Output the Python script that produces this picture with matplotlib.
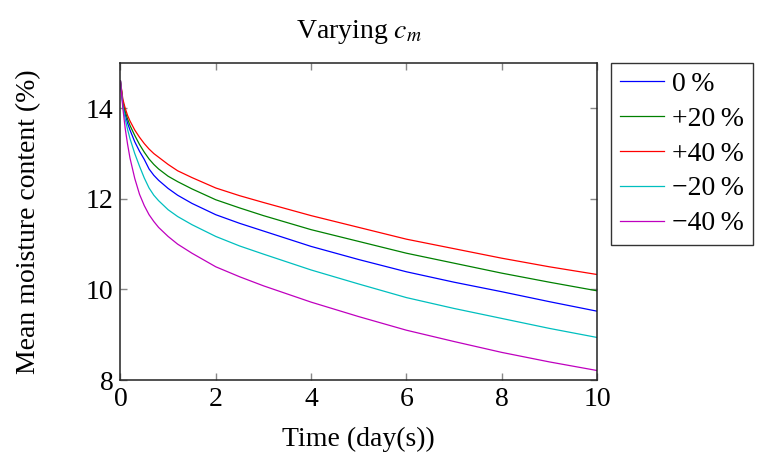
import matplotlib
matplotlib.use("Agg")
import matplotlib.pyplot as plt

t_days = [0, 0.05, 0.1, 0.15, 0.2, 0.3, 0.4, 0.5, 0.6, 0.7, 0.8, 1.0, 1.2, 1.5, 2, 2.5, 3, 4, 5, 6, 7, 8, 9, 10]
base = [14.6, 14.10, 13.86, 13.67, 13.52, 13.26, 13.05, 12.87, 12.66, 12.52, 12.41, 12.23, 12.08, 11.90, 11.65, 11.46, 11.29, 10.95, 10.66, 10.39, 10.16, 9.95, 9.73, 9.52]
plus20 = [14.6, 14.15, 13.93, 13.76, 13.62, 13.40, 13.20, 13.03, 12.88, 12.76, 12.66, 12.50, 12.38, 12.22, 11.98, 11.80, 11.63, 11.32, 11.06, 10.80, 10.58, 10.36, 10.16, 9.97]
plus40 = [14.6, 14.20, 14.00, 13.84, 13.72, 13.52, 13.36, 13.22, 13.10, 13.00, 12.92, 12.76, 12.62, 12.47, 12.24, 12.07, 11.92, 11.63, 11.37, 11.11, 10.90, 10.69, 10.50, 10.33]
minus20 = [14.6, 14.05, 13.76, 13.53, 13.33, 13.00, 12.72, 12.46, 12.24, 12.08, 11.96, 11.76, 11.61, 11.43, 11.17, 10.96, 10.78, 10.43, 10.12, 9.82, 9.58, 9.36, 9.14, 8.94]
minus40 = [14.6, 14.00, 13.55, 13.20, 12.90, 12.45, 12.10, 11.85, 11.65, 11.50, 11.37, 11.17, 11.00, 10.80, 10.50, 10.28, 10.08, 9.72, 9.40, 9.10, 8.85, 8.61, 8.40, 8.21]

labels = ["0\u2009%", "+20\u2009%", "+40\u2009%", "\u221220\u2009%", "\u221240\u2009%"]
xticks = [0, 2, 4, 6, 8, 10]
yticks = [8, 10, 12, 14]

plt.rcParams['font.family'] = ['Liberation Serif', 'DejaVu Serif']
plt.rcParams['mathtext.fontset'] = 'stix'

fig = plt.figure(figsize=(7.61, 4.68), dpi=100)
ax = fig.add_axes([0.1583, 0.188, 0.6262, 0.6774])

series = [(base, "#0000ff"), (plus20, "#008000"), (plus40, "#ff0000"),
          (minus20, "#00bfbf"), (minus40, "#bf00bf")]
for (y, c), lab in zip(series, labels):
    ax.plot(t_days, y, color=c, lw=0.9, label=lab)

ax.set_xlim(0, 10)
ax.set_ylim(8, 15)
ax.set_xticks(xticks)
ax.set_yticks(yticks)
ax.tick_params(direction='in', length=5, color='#888888', width=1, labelsize=20,
               top=True, right=True, pad=5)
for s in ax.spines.values():
    s.set_linewidth(1.1)
    s.set_color('#222222')

ax.set_xlabel("Time (day(s))", fontsize=20, labelpad=11)
ax.set_ylabel("Mean moisture content (%)", fontsize=20, labelpad=32)
ax.set_title("Varying $c_m$", fontsize=20, pad=18)

leg = ax.legend(loc='upper left', bbox_to_anchor=(1.03, 1.0), fontsize=20, frameon=True,
                fancybox=False, edgecolor='black', handlelength=1.6, handletextpad=0.3,
                borderpad=0.3, labelspacing=0.34, borderaxespad=0.0)
leg.get_frame().set_linewidth(1.0)

fig.savefig("out.png", dpi=100)
